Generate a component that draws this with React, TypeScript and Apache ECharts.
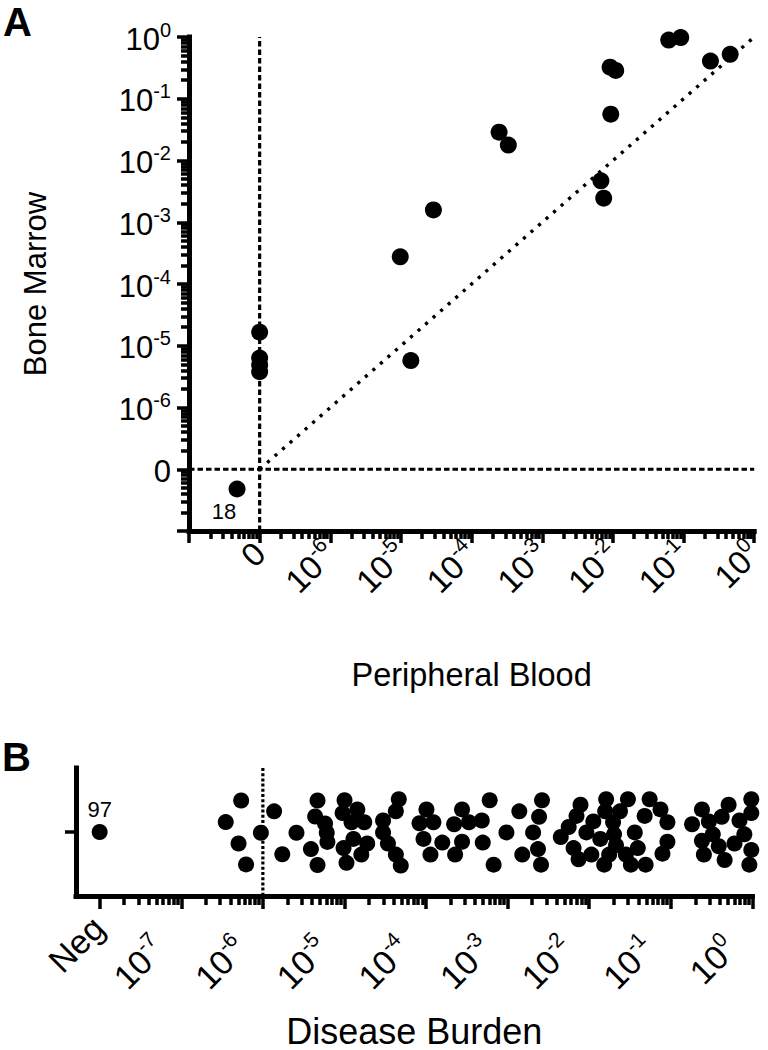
import React, { useEffect, useRef } from 'react';
import * as echarts from 'echarts';

const FONT = '"Liberation Sans", Arial, Helvetica, sans-serif';

// ---------- Panel A: MRD in peripheral blood vs bone marrow (fraction; 0 = zero, -1 = negative)
const peripheralBlood = [
  0.0617, 0.0912, 0.24, 0.457, 0.00912, 0.01096, 0.00933, 2.45e-4, 3.31e-4,
  0.00676, 0.00741, 2.88e-5, 9.77e-6, 1.38e-5, 0, 0, 0, 0,
];
const boneMarrow = [
  0.891, 0.977, 0.407, 0.525, 0.324, 0.288, 0.0562, 0.0288, 0.0178,
  0.00468, 0.00245, 0.00158, 2.75e-4, 5.75e-6, 1.66e-5, 6.31e-6, 4.9e-6, 3.8e-6,
];
const negativeA = { pb: -1, bm: -1, count: 18 };
const zeroLabelA = '0';
const decadeExpA = ['-6', '-5', '-4', '-3', '-2', '-1', '0'];

// ---------- Panel B: disease burden (log10), swarm offsets in dot rows
const diseaseBurdenLog10 = [
  -6.455, -6.298, -6.266, -6.206, -6.024, -5.862, -5.762, -5.588,
  -5.411, -5.359, -5.33, -5.33, -5.238, -5.217, -5.209,
  -4.999, -5.023, -4.842, -4.914, -4.757, -4.89, -4.721, -5.011, -4.793, -4.975,
  -4.334, -4.37, -4.527, -4.527, -4.467, -4.37, -4.31,
  -3.995, -4.08, -3.91, -4.031, -3.801, -3.946,
  -3.559, -3.656, -3.475, -3.317, -3.559, -3.305, -3.644,
  -3.22, -3.172, -3.015, -2.857, -2.821, -2.688, -2.615, -2.628, -2.579, -2.591,
  -2.349, -2.252, -2.156, -2.107, -2.192, -2.131, -2.035, -1.95, -1.974,
  -1.793, -1.805, -1.817, -1.708, -1.696, -1.672, -1.865, -1.526, -1.623, -1.551, -1.49, -1.756,
  -1.26, -1.127, -1.321, -1.042, -1.442, -1.042, -1.405, -1.103, -1.309,
  -0.74, -0.619, -0.292, -0.377, -0.534, -0.486, -0.619, -0.413, -0.595, -0.341,
  -0.159, -0.014, -0.014, -0.099, -0.22, -0.014, -0.038,
];
const swarmOffset = [
  -0.93, 1.08, -2.95, 3.04, 0.07, -1.94, 2.09, 0.07,
  1.6, -1.45, -2.95, 3.09, -0.8, 0.07, 0.93,
  -2.98, -1.77, -2.12, -0.91, -0.91, 0.65, 1.08, 1.51, 2.12, 2.89,
  -3.07, -1.94, -1.08, 0.04, 1.08, 2.12, 3.15,
  -2.12, -0.82, -0.91, 0.65, 0.99, 2.12,
  -2.12, -0.73, -0.91, -1.08, 0.91, 0.99, 2.12,
  -2.98, 3.06, 0.04, -1.94, 2.12, 0.04, -1.42, 1.6, -2.98, 3.06,
  0.47, -0.47, -1.51, -2.55, 1.51, 2.55, 0.04, -0.99, 2.12,
  -3.07, -1.94, 3.06, -0.91, 0.22, 1.25, 0.65, -3.07, -1.94, 2.12, 3.06, 2.12,
  -3.07, -2.12, -1.51, -0.91, 0.04, 0.91, 1.51, 2.03, 3.06,
  -0.73, -2.12, -2.55, -1.42, -0.99, 0.22, 0.82, 1.34, 2.12, 2.63,
  -1.08, -3.07, -1.77, 0.22, 1.08, 1.68, 3.06,
];
const negativeB = { count: 97 };
const zeroLabelB = 'Neg';
const decadeExpB = ['-7', '-6', '-5', '-4', '-3', '-2', '-1', '0'];
const thresholdB = 1e-6;

// ---------- scales (axis units = decades)
const NEG_U = -0.32;
const toUA = (v: number) => (v > 0 ? Math.log10(v) + 7 : v === 0 ? 0 : NEG_U);
const toUB = (lg: number) => lg + 8;

const minorPositions = (from: number, to: number) => {
  const out: number[] = [];
  for (let k = from; k < to; k++) for (let m = 2; m <= 9; m++) out.push(k + Math.log10(m));
  return out;
};

const BLACK = '#000';
const rich = (base: number, sup: number, supPad = 0, negPad = 0) => ({
  b: { fontSize: base, fontFamily: FONT, color: BLACK, lineHeight: base + 4, verticalAlign: 'bottom' },
  s: { fontSize: sup, fontFamily: FONT, color: BLACK, lineHeight: sup, verticalAlign: 'top', padding: [0, supPad, 0, 0] },
  n: { fontSize: base, fontFamily: FONT, color: BLACK, lineHeight: base + 4, verticalAlign: 'bottom', padding: [0, negPad, 0, 0] },
});

const labelA = (v: number) => {
  const i = Math.round(v);
  if (Math.abs(v - i) > 1e-6 || i < 0 || i > 7) return '';
  return i === 0 ? `{b|${zeroLabelA}}` : `{b|10}{s|${decadeExpA[i - 1]}}`;
};
const labelB = (v: number) => {
  const i = Math.round(v);
  if (Math.abs(v - i) > 1e-6 || i < 0 || i > 8) return '';
  return i === 0 ? `{n|${zeroLabelB}}` : `{b|10}{s|${decadeExpB[i - 1]}}`;
};

const mainLine = { show: true, onZero: false, lineStyle: { color: BLACK, width: 5, cap: 'square' } };
const hiddenLine = { show: false, onZero: false };
const tickStyle = (len: number) => ({ show: true, length: len, lineStyle: { color: BLACK, width: 3.5 } });
const dot = { color: BLACK, opacity: 1 };

function buildOption() {
  const scatterA = peripheralBlood.map((pb, i) => [toUA(pb), toUA(boneMarrow[i])]);
  const scatterB = diseaseBurdenLog10.map((lg, i) => [toUB(lg), swarmOffset[i]]);
  const thrU = toUB(Math.log10(thresholdB));
  const majorB = [0, 1, 2, 3, 4, 5, 6, 7, 8];

  return {
    animation: false,
    backgroundColor: '#fff',
    title: [
      { text: 'A', left: 3, top: 2, padding: 0, textStyle: { fontSize: 40, fontWeight: 'bold', fontFamily: FONT, color: BLACK } },
      { text: 'B', left: 2, top: 737, padding: 0, textStyle: { fontSize: 40, fontWeight: 'bold', fontFamily: FONT, color: BLACK } },
    ],
    grid: [
      { left: 189, top: 37, width: 568, height: 494 },
      { left: 76, top: 768, width: 685, height: 139 },
    ],
    xAxis: [
      {
        gridIndex: 0, type: 'value', min: -1, max: 7, interval: 1, position: 'bottom',
        axisLine: mainLine, axisTick: tickStyle(12), splitLine: { show: false },
        axisLabel: { formatter: labelA, rotate: 45, margin: 14, padding: [0, 2, 0, 0], rich: rich(33, 21), color: BLACK, fontFamily: FONT },
        name: 'Peripheral Blood', nameLocation: 'middle', nameGap: 127,
        nameTextStyle: { fontSize: 32.5, fontFamily: FONT, color: BLACK },
      },
      {
        gridIndex: 0, type: 'value', min: -1, max: 7, position: 'bottom',
        axisLine: hiddenLine, axisTick: { ...tickStyle(8), customValues: minorPositions(-1, 7) },
        axisLabel: { show: false }, splitLine: { show: false },
      },
      {
        gridIndex: 1, type: 'value', min: -0.29, max: 8, position: 'bottom',
        axisLine: mainLine, axisTick: { ...tickStyle(13), customValues: majorB }, splitLine: { show: false },
        axisLabel: {
          customValues: majorB, formatter: labelB, rotate: 45, margin: 22,
          rich: rich(34, 21, 33, 4), color: BLACK, fontFamily: FONT,
        },
        name: 'Disease Burden', nameLocation: 'middle', nameGap: 117,
        nameTextStyle: { fontSize: 36, fontFamily: FONT, color: BLACK },
      },
      {
        gridIndex: 1, type: 'value', min: -0.29, max: 8, position: 'bottom',
        axisLine: hiddenLine, axisTick: { ...tickStyle(9), customValues: minorPositions(0, 8) },
        axisLabel: { show: false }, splitLine: { show: false },
      },
    ],
    yAxis: [
      {
        gridIndex: 0, type: 'value', min: -1, max: 7, interval: 1, position: 'left',
        axisLine: mainLine, axisTick: tickStyle(12), splitLine: { show: false },
        axisLabel: { formatter: labelA, margin: 18, rich: rich(31, 20), color: BLACK, fontFamily: FONT },
        name: 'Bone Marrow', nameLocation: 'middle', nameGap: 138, nameRotate: 90,
        nameTextStyle: { fontSize: 31, fontFamily: FONT, color: BLACK },
      },
      {
        gridIndex: 0, type: 'value', min: -1, max: 7, position: 'left',
        axisLine: hiddenLine, axisTick: { ...tickStyle(8), customValues: minorPositions(-1, 7) },
        axisLabel: { show: false }, splitLine: { show: false },
      },
      {
        gridIndex: 1, type: 'value', min: -6, max: 6, position: 'left', inverse: true,
        axisLine: mainLine, axisTick: { ...tickStyle(11), customValues: [0] },
        axisLabel: { show: false }, splitLine: { show: false },
      },
    ],
    series: [
      {
        type: 'line', xAxisIndex: 0, yAxisIndex: 0, data: [[0, -1], [0, 7]], symbol: 'none', silent: true,
        lineStyle: { color: BLACK, width: 3.2, type: [5.5, 3], opacity: 1 },
      },
      {
        type: 'line', xAxisIndex: 0, yAxisIndex: 0, data: [[-1, 0], [7, 0]], symbol: 'none', silent: true,
        lineStyle: { color: BLACK, width: 3.2, type: [5.5, 3], opacity: 1 },
      },
      {
        type: 'line', xAxisIndex: 0, yAxisIndex: 0, data: [[0, 0], [7, 7]], symbol: 'none', silent: true,
        lineStyle: { color: BLACK, width: 3.4, type: [3.2, 6.8], opacity: 1 },
      },
      {
        type: 'scatter', xAxisIndex: 0, yAxisIndex: 0, data: scatterA, symbol: 'circle', symbolSize: 17,
        itemStyle: dot, clip: false,
      },
      {
        type: 'scatter', xAxisIndex: 0, yAxisIndex: 0, data: [[toUA(negativeA.pb), toUA(negativeA.bm)]],
        symbol: 'circle', symbolSize: 17, itemStyle: dot, clip: false,
        label: {
          show: true, position: 'bottom', distance: 3, offset: [-13, 0], formatter: String(negativeA.count),
          fontSize: 22, fontFamily: FONT, color: BLACK, opacity: 1,
        },
      },
      {
        type: 'line', xAxisIndex: 2, yAxisIndex: 2, data: [[thrU, -6], [thrU, 6]], symbol: 'none', silent: true,
        lineStyle: { color: BLACK, width: 3.2, type: [3, 2.2], opacity: 1 },
      },
      {
        type: 'scatter', xAxisIndex: 2, yAxisIndex: 2, data: scatterB, symbol: 'circle', symbolSize: 16,
        itemStyle: dot, clip: false,
      },
      {
        type: 'scatter', xAxisIndex: 2, yAxisIndex: 2, data: [[0, 0]], symbol: 'circle', symbolSize: 16,
        itemStyle: dot, clip: false,
        label: {
          show: true, position: 'top', distance: 4, formatter: String(negativeB.count),
          fontSize: 22, fontFamily: FONT, color: BLACK, opacity: 1,
        },
      },
    ],
  };
}

export default function App() {
  const ref = useRef<HTMLDivElement>(null);
  useEffect(() => {
    if (!ref.current) return;
    const chart = echarts.init(ref.current, undefined, { renderer: 'svg', width: 768, height: 1050 });
    chart.setOption(buildOption() as any);
    return () => chart.dispose();
  }, []);
  return (
    <div
      ref={ref}
      style={{ position: 'absolute', left: 0, top: 0, width: 768, height: 1050, background: '#fff' }}
    />
  );
}
